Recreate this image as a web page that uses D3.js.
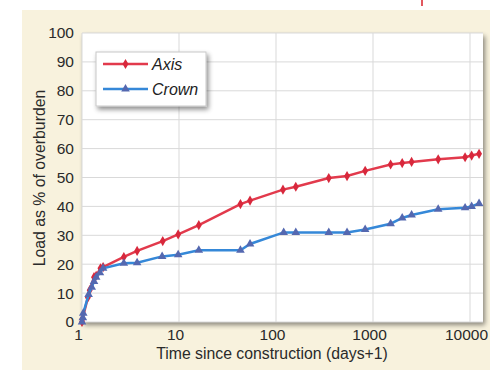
<!DOCTYPE html>
<html><head><meta charset="utf-8">
<script src="https://cdn.jsdelivr.net/npm/d3@7"></script>
<style>body{margin:0;background:#fff}svg{display:block}text{font-family:"Liberation Sans",Arial,sans-serif}</style>
</head><body><svg id="c" width="490" height="370"></svg>
<script>
const seriesNames = ["Axis", "Crown"];
const axisDays = [1.0, 1.01, 1.15, 1.2, 1.33, 1.4, 1.55, 1.65, 2.7, 3.7, 6.8, 9.8, 16, 43, 54, 118, 160, 350, 540, 830, 1520, 2000, 2500, 4700, 8900, 10400, 12400];
const axisLoad = [0, 1, 8.5, 11, 15.5, 16, 18.6, 19, 22.5, 24.6, 28, 30.3, 33.5, 40.8, 42, 45.8, 46.8, 49.8, 50.5, 52.3, 54.5, 55, 55.4, 56.3, 57, 57.6, 58.2];
const crownDays = [1.0, 1.02, 1.03, 1.17, 1.26, 1.33, 1.4, 1.53, 1.65, 2.7, 3.7, 6.7, 9.8, 16, 43, 54, 120, 160, 350, 540, 830, 1520, 2000, 2500, 4700, 8900, 10400, 12400];
const crownLoad = [0, 1.5, 3, 9.5, 12, 14, 15.5, 17, 18.6, 20.3, 20.5, 22.7, 23.3, 24.8, 24.8, 27, 31, 31, 31, 31, 32, 34, 36, 37, 39, 39.5, 40, 41];
const xTicks = [1, 10, 100, 1000, 10000];
const yTicks = [0, 10, 20, 30, 40, 50, 60, 70, 80, 90, 100];
const xTitle = "Time since construction (days+1)";
const yTitle = "Load as % of overburden";

const svg = d3.select("#c");
svg.append("rect").attr("x",22).attr("y",10).attr("width",468).attr("height",360).attr("fill","#f8f2dd");
svg.append("line").attr("x1",422).attr("x2",422).attr("y1",0).attr("y2",6).attr("stroke","#d8202a").attr("stroke-width",1.5);

const L=82,R=483,T=33,B=322;
const x = d3.scaleLog().domain([1, Math.pow(10,(R-L)/97)]).range([L,R]);
const y = d3.scaleLinear().domain([0,100]).range([B,T]);

const defs = svg.append("defs");
const f = defs.append("filter").attr("id","sh").attr("x","-10%").attr("y","-10%").attr("width","130%").attr("height","130%");
f.append("feGaussianBlur").attr("in","SourceAlpha").attr("stdDeviation",2.5);
f.append("feOffset").attr("dx",2).attr("dy",3).attr("result","b");
f.append("feComponentTransfer").append("feFuncA").attr("type","linear").attr("slope",0.45);
const m = f.append("feMerge"); m.append("feMergeNode"); m.append("feMergeNode").attr("in","SourceGraphic");
svg.append("rect").attr("x",L).attr("y",T).attr("width",R-L).attr("height",B-T).attr("fill","#fff").attr("filter","url(#sh)");

const g = svg.append("g");
g.selectAll(".gy").data(yTicks).join("line").attr("x1",L).attr("x2",R).attr("y1",d=>y(d)).attr("y2",d=>y(d)).attr("stroke","#d9d9d9").attr("stroke-width",1);
g.selectAll(".gx").data(xTicks).join("line").attr("x1",d=>x(d)).attr("x2",d=>x(d)).attr("y1",T).attr("y2",B).attr("stroke","#d9d9d9").attr("stroke-width",1);

const ya = svg.append("g").attr("transform",`translate(${L},0)`).call(d3.axisLeft(y).tickValues(yTicks).tickSize(0).tickPadding(8));
ya.select(".domain").remove();
ya.selectAll("text").attr("font-size",15.5).attr("fill","#2a2a2a").attr("font-family","Liberation Sans, Arial, sans-serif");
const xa = svg.append("g").attr("transform",`translate(0,${B})`).call(d3.axisBottom(x).tickValues(xTicks).tickFormat(d3.format("d")).tickSize(0).tickPadding(7));
xa.select(".domain").remove();
xa.selectAll("text").attr("font-size",15.5).attr("dx",-4).attr("fill","#2a2a2a").attr("font-family","Liberation Sans, Arial, sans-serif");

svg.append("text").attr("x",272).attr("y",359).attr("text-anchor","middle").attr("font-size",15.8).attr("fill","#2a2a2a").text(xTitle);
svg.append("text").attr("transform","translate(45,178) rotate(-90)").attr("text-anchor","middle").attr("font-size",15.8).attr("fill","#2a2a2a").text(yTitle);

const red="#e23a4c", blue="#3588d8", redM="#d8283c", blueM="#5468b0";
const line = d3.line().x(d=>x(d[0])).y(d=>y(d[1]));
const axisData = axisDays.map((d,i)=>[d,axisLoad[i]]);
const crownData = crownDays.map((d,i)=>[d,crownLoad[i]]);
const diamond = d3.symbol().type(d3.symbolDiamond).size(30);
const tri = d3.symbol().type(d3.symbolTriangle).size(32);

svg.append("path").datum(axisData).attr("d",line).attr("fill","none").attr("stroke",red).attr("stroke-width",2.5);
svg.selectAll(".ma").data(axisData).join("path").attr("d",diamond).attr("transform",d=>`translate(${x(d[0])},${y(d[1])})`).attr("fill",redM);
svg.append("path").datum(crownData).attr("d",line).attr("fill","none").attr("stroke",blue).attr("stroke-width",2.5);
svg.selectAll(".mc").data(crownData).join("path").attr("d",tri).attr("transform",d=>`translate(${x(d[0])},${y(d[1])})`).attr("fill",blueM);

const lg = svg.append("g");
lg.append("rect").attr("x",96).attr("y",52).attr("width",110).attr("height",54).attr("fill","#fff").attr("stroke","#c8c8c8").attr("filter","url(#sh)");
const items=[{n:seriesNames[0],c:red,mc:redM,s:diamond,y:64},{n:seriesNames[1],c:blue,mc:blueM,s:tri,y:89}];
items.forEach(it=>{
  lg.append("line").attr("x1",103).attr("x2",148).attr("y1",it.y).attr("y2",it.y).attr("stroke",it.c).attr("stroke-width",2.5);
  lg.append("path").attr("d",it.s).attr("transform",`translate(125.5,${it.y})`).attr("fill",it.mc);
  lg.append("text").attr("x",152).attr("y",it.y+5.5).attr("font-size",16).attr("font-style","italic").attr("fill","#222").text(it.n);
});
</script></body></html>
